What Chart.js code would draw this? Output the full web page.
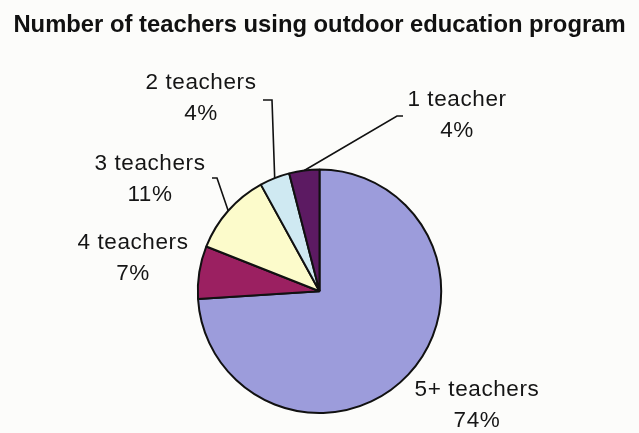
<!DOCTYPE html>
<html>
<head>
<meta charset="utf-8">
<script src="https://cdn.jsdelivr.net/npm/chart.js@4"></script>
<style>
  html, body { margin: 0; padding: 0; background: #fcfcfa; }
  #wrap { width: 639px; height: 433px; }
</style>
</head>
<body>
<div id="wrap"><canvas id="myChart" width="639" height="433"></canvas></div>
<script>
const ctx = document.getElementById('myChart');

// DATA
const categorias = ['5+ teachers', '4 teachers', '3 teachers', '2 teachers', '1 teacher'];
const porcentajes = [74, 7, 11, 4, 4];
const colores = ['#9c9cdb', '#9b2061', '#fcfbcb', '#cfe9f2', '#5c1a62'];

// where each label sits, and the bend of its leader line (null = no line)
const posEtiquetas = [
    { x: 477, y: 390 },
    { x: 133, y: 243 },
    { x: 150, y: 164 },
    { x: 201, y: 83 },
    { x: 457, y: 100 }
];
const codos = [
    null,
    null,
    { x: 217, y: 178, fin: 212 },
    { x: 272, y: 100, fin: 263 },
    { x: 397, y: 116, fin: 403 }
];

// labels + leader lines
const etiquetas = {
    id: 'etiquetas',
    afterDatasetsDraw(chart) {
        const c = chart.ctx;
        const arcs = chart.getDatasetMeta(0).data;
        c.save();

        // leader lines from the middle of each slice edge
        c.strokeStyle = '#111';
        c.lineWidth = 1.6;
        arcs.forEach((arc, i) => {
            const codo = codos[i];
            if (!codo) return;
            const mid = (arc.startAngle + arc.endAngle) / 2;
            const r = arc.outerRadius;
            c.beginPath();
            c.moveTo(arc.x + Math.cos(mid) * r, arc.y + Math.sin(mid) * r);
            c.lineTo(codo.x, codo.y);
            c.lineTo(codo.fin, codo.y);
            c.stroke();
        });

        c.fillStyle = '#151515';
        c.font = '22.5px "Liberation Sans", Arial, sans-serif';
        c.letterSpacing = '0.6px';
        c.textAlign = 'center';
        c.textBaseline = 'middle';
        categorias.forEach((cat, i) => {
            const p = posEtiquetas[i];
            c.fillText(cat, p.x, p.y);
            c.fillText(porcentajes[i] + '%', p.x, p.y + 31);
        });
        c.restore();
    }
};

// GRAFICA
const myChart = new Chart(ctx, {
    type: 'pie',
    data: {
        labels: categorias,
        datasets: [{
            data: porcentajes,
            backgroundColor: colores,
            borderColor: '#111',
            borderWidth: 2
        }]
    },
    options: {
        responsive: false,
        animation: false,
        layout: { padding: { top: 0, bottom: 19, left: 0, right: 0 } },
        plugins: {
            legend: { display: false },
            tooltip: { enabled: false },
            title: {
                display: true,
                text: 'Number of teachers using outdoor education program',
                color: '#111',
                font: { family: '"Liberation Sans", Arial, sans-serif', size: 23.8, weight: 'bold' },
                padding: { top: 11, bottom: 129 }
            }
        }
    },
    plugins: [etiquetas]
});
</script>
</body>
</html>
